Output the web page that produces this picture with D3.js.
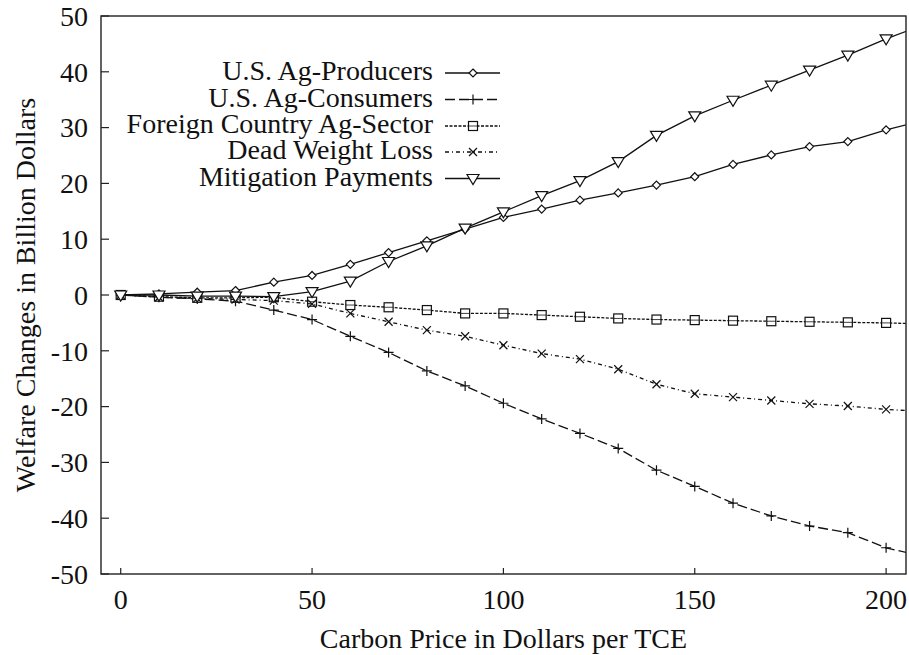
<!DOCTYPE html>
<meta charset="utf-8">
<style>
    body { margin: 0; background: #fff; }
    text { font-family: "Liberation Serif", "Times New Roman", serif; fill: #111; }
    .frame { fill: none; stroke: #222; stroke-width: 1.4px; }
    .tick { stroke: #222; stroke-width: 1.2px; }
    .series { fill: none; stroke: #111; stroke-width: 1.3px; }
    .mark { fill: #fff; stroke: #111; stroke-width: 1.2px; }
</style>
<body>
<div id="chart"></div>
<script src="https://d3js.org/d3.v7.min.js"></script>
<script>
    // carbon price in $/TCE (210 is the point just past the clipped edge)
    var prices = [0, 10, 20, 30, 40, 50, 60, 70, 80, 90, 100, 110, 120, 130, 140, 150, 160, 170, 180, 190, 200, 210];

    var producers  = [0, 0.2, 0.5, 0.8, 2.3, 3.5, 5.5, 7.6, 9.7, 11.8, 13.9, 15.4, 17.0, 18.3, 19.7, 21.2, 23.4, 25.1, 26.6, 27.5, 29.6, 31.3];
    var consumers  = [0, -0.4, -0.7, -1.1, -2.7, -4.4, -7.4, -10.3, -13.6, -16.3, -19.4, -22.2, -24.8, -27.5, -31.4, -34.3, -37.3, -39.6, -41.4, -42.6, -45.3, -46.9];
    var foreign    = [0, -0.3, -0.5, -0.5, -0.4, -1.2, -1.8, -2.2, -2.7, -3.3, -3.3, -3.6, -3.9, -4.2, -4.4, -4.5, -4.6, -4.7, -4.8, -4.9, -5.0, -5.2];
    var deadweight = [0, -0.4, -0.6, -0.8, -1.0, -1.6, -3.3, -4.8, -6.3, -7.4, -9.0, -10.5, -11.5, -13.3, -16.0, -17.7, -18.3, -18.9, -19.5, -19.9, -20.5, -20.9];
    var mitigation = [0, 0, -0.2, -0.2, -0.3, 0.6, 2.5, 6.0, 8.8, 12.0, 14.9, 17.8, 20.5, 23.9, 28.6, 32.1, 34.9, 37.6, 40.3, 43.0, 45.9, 48.5];

    var xTicks = [0, 50, 100, 150, 200];
    var yTicks = [-50, -40, -30, -20, -10, 0, 10, 20, 30, 40, 50];

    var seriesNames = ["U.S. Ag-Producers", "U.S. Ag-Consumers", "Foreign Country Ag-Sector", "Dead Weight Loss", "Mitigation Payments"];
    var seriesValues = [producers, consumers, foreign, deadweight, mitigation];
    var seriesMarks = ["diamond", "plus", "square", "cross", "triangle"];
    var seriesDash = [null, "10,4", "3,1.5", "4,3,1,3", null];

    var width = 909,
        height = 655,
        margin = {left: 101, right: 3, top: 16, bottom: 81},
        fontSize = "28px";

    var svg = d3.select("#chart").append("svg")
        .attr("width", width)
        .attr("height", height);

    var x = d3.scaleLinear().domain([-5.15, 205.2]).range([margin.left, width - margin.right]);
    var y = d3.scaleLinear().domain([-50, 50]).range([height - margin.bottom, margin.top]);

    svg.append("clipPath").attr("id", "plot")
        .append("rect")
        .attr("x", margin.left).attr("y", margin.top)
        .attr("width", x.range()[1] - margin.left)
        .attr("height", y.range()[0] - margin.top);

    // ticks drawn inward, gnuplot style
    svg.selectAll(".ytick").data(yTicks).enter().append("line")
        .attr("class", "tick")
        .attr("x1", margin.left).attr("x2", margin.left + 8)
        .attr("y1", function (d) { return y(d); })
        .attr("y2", function (d) { return y(d); });

    svg.selectAll(".ylab").data(yTicks).enter().append("text")
        .attr("x", margin.left - 13)
        .attr("y", function (d) { return y(d); })
        .attr("dy", "0.35em")
        .attr("text-anchor", "end")
        .style("font-size", fontSize)
        .text(function (d) { return d; });

    svg.selectAll(".xtick").data(xTicks).enter().append("line")
        .attr("class", "tick")
        .attr("x1", function (d) { return x(d); })
        .attr("x2", function (d) { return x(d); })
        .attr("y1", y(-50)).attr("y2", y(-50) - 6);

    svg.selectAll(".xlab").data(xTicks).enter().append("text")
        .attr("x", function (d) { return x(d); })
        .attr("y", 609)
        .attr("text-anchor", "middle")
        .style("font-size", fontSize)
        .text(function (d) { return d; });

    svg.append("text")
        .attr("x", (x.range()[0] + x.range()[1]) / 2)
        .attr("y", 648)
        .attr("text-anchor", "middle")
        .style("font-size", fontSize)
        .text("Carbon Price in Dollars per TCE");

    svg.append("text")
        .attr("transform", "translate(35," + y(0) + ") rotate(-90)")
        .attr("text-anchor", "middle")
        .style("font-size", fontSize)
        .text("Welfare Changes in Billion Dollars");

    function drawMark(g, kind, cx, cy) {
        if (kind === "diamond") {
            g.append("path").attr("class", "mark")
                .attr("d", "M" + cx + "," + (cy - 4) + "L" + (cx + 4) + "," + cy + "L" + cx + "," + (cy + 4) + "L" + (cx - 4) + "," + cy + "Z");
        } else if (kind === "plus") {
            g.append("path").attr("class", "mark")
                .attr("d", "M" + (cx - 5) + "," + cy + "H" + (cx + 5) + "M" + cx + "," + (cy - 5) + "V" + (cy + 5));
        } else if (kind === "square") {
            g.append("rect").attr("class", "mark")
                .attr("x", cx - 4.5).attr("y", cy - 4.5).attr("width", 9).attr("height", 9);
            g.append("path").attr("class", "mark").style("stroke-width", "0.8px")
                .attr("d", "M" + (cx - 4.5) + "," + cy + "H" + (cx + 4.5));
        } else if (kind === "cross") {
            g.append("path").attr("class", "mark")
                .attr("d", "M" + (cx - 4) + "," + (cy - 4) + "L" + (cx + 4) + "," + (cy + 4) + "M" + (cx - 4) + "," + (cy + 4) + "L" + (cx + 4) + "," + (cy - 4));
        } else {
            g.append("path").attr("class", "mark")
                .attr("d", "M" + (cx - 6) + "," + (cy - 4) + "L" + (cx + 6) + "," + (cy - 4) + "L" + cx + "," + (cy + 6) + "Z");
        }
    }

    var line = d3.line()
        .x(function (d) { return x(d[0]); })
        .y(function (d) { return y(d[1]); });

    var plot = svg.append("g").attr("clip-path", "url(#plot)");

    seriesValues.forEach(function (vals, i) {
        var pts = prices.map(function (p, j) { return [p, vals[j]]; });
        plot.append("path")
            .attr("class", "series")
            .attr("d", line(pts))
            .style("stroke-dasharray", seriesDash[i]);
        var g = plot.append("g");
        pts.forEach(function (d) {
            drawMark(g, seriesMarks[i], x(d[0]), y(d[1]));
        });
    });

    // legend
    var legendY = [73, 99.5, 126, 152, 178.5];
    seriesNames.forEach(function (name, i) {
        svg.append("text")
            .attr("x", 433)
            .attr("y", legendY[i])
            .attr("dy", "0.25em")
            .attr("text-anchor", "end")
            .style("font-size", fontSize)
            .text(name);
        svg.append("line")
            .attr("class", "series")
            .attr("x1", 445).attr("x2", 500)
            .attr("y1", legendY[i]).attr("y2", legendY[i])
            .style("stroke-dasharray", seriesDash[i]);
        drawMark(svg, seriesMarks[i], 473, legendY[i]);
    });

    svg.append("rect")
        .attr("class", "frame")
        .attr("x", margin.left).attr("y", margin.top)
        .attr("width", x.range()[1] - margin.left)
        .attr("height", y.range()[0] - margin.top);
</script>
</body>
